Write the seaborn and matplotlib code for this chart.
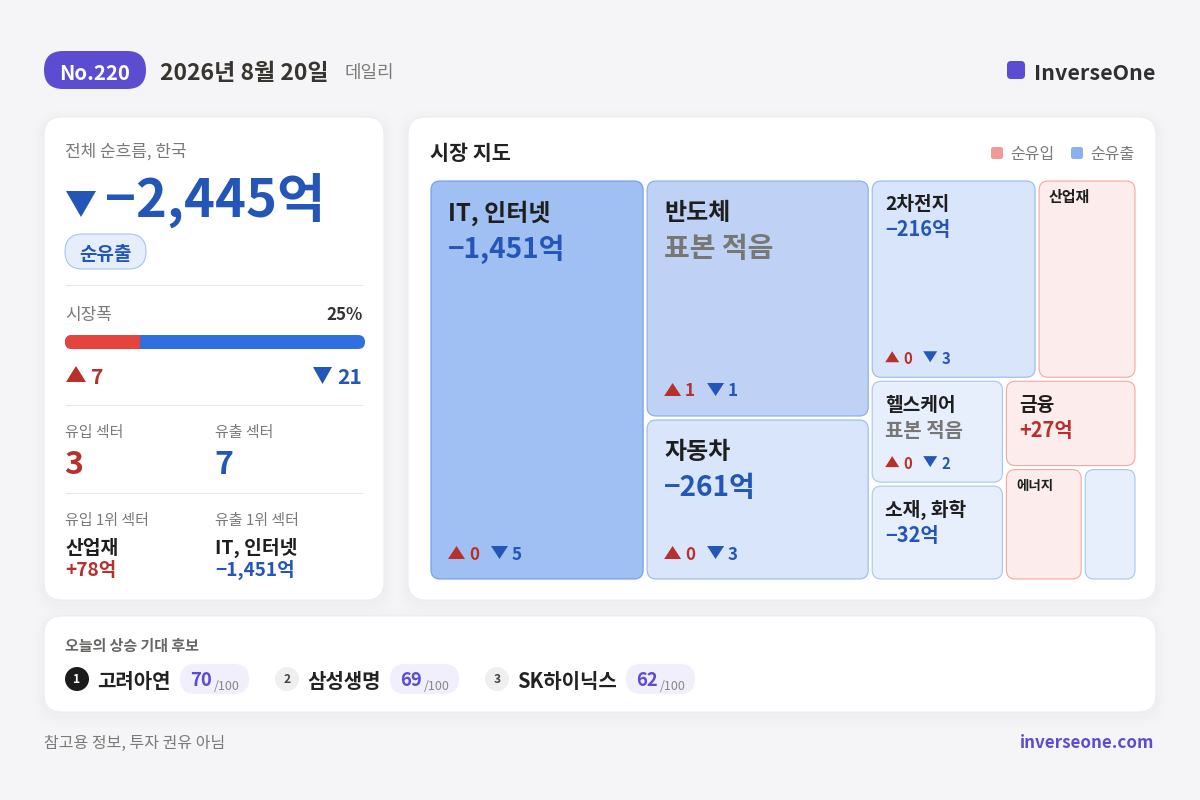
import matplotlib
matplotlib.use("Agg")
import matplotlib.pyplot as plt
from matplotlib.patches import FancyBboxPatch, Polygon, Circle
import seaborn as sns

# ---------- data ----------
issue_label = "No.220"
date_label = "2026년 8월 20일"
total_flow = -2445
advancers = 7
decliners = 21
breadth_pct = 25
inflow_sectors = 3
outflow_sectors = 7
top_in_name, top_in_flow = "산업재", 78
top_out_name, top_out_flow = "IT, 인터넷", -1451

sector_names = ["IT, 인터넷", "반도체", "자동차", "2차전지", "산업재", "헬스케어", "소재, 화학", "금융", "에너지", ""]
sector_flows = [-1451, None, -261, -216, None, None, -32, 27, None, None]
sector_ups = [0, 1, 0, 0, None, 0, None, None, None, None]
sector_downs = [5, 1, 3, 3, None, 2, None, None, None, None]
sector_sizes = [86832, 53775, 36675, 33400, 20000, 14070, 12998, 11704, 8927, 6102]

pick_names = ["고려아연", "삼성생명", "SK하이닉스"]
pick_scores = [70, 69, 62]

# ---------- style ----------
BG = "#F5F5F8"
PURPLE = "#5B4CD1"
BLUE = "#2456B8"
RED = "#B8302B"
GREY = "#7A7A78"
INK = "#1E1E1E"
LINE = "#E6E6E9"
cell_tiers = ["L", "L", "L", "M", "S", "M", "M", "M", "XS", "XS"]
cell_fills = ["#A0BFF3", "#BFD2F5", "#D8E5FB", "#D8E5FB", "#FCECEC", "#E8EFFC", "#E8EFFC", "#FCECEC", "#FCECEC", "#E8EFFC"]
cell_edges = ["#6F9BE8", "#86ABEC", "#98B9F1", "#98B9F1", "#F3A8A2", "#A8C4F2", "#A8C4F2", "#F3A8A2", "#F3A8A2", "#A8C4F2"]

sns.set_theme(style="white")
plt.rcParams["font.family"] = ["Noto Sans CJK KR", "DejaVu Sans"]

fig = plt.figure(figsize=(12, 8), dpi=100, facecolor=BG)
ax = fig.add_axes([0, 0, 1, 1])
ax.set_xlim(0, 1200)
ax.set_ylim(800, 0)
ax.axis("off")

THIN = 0.8


def txt(x, y, s, px, color=INK, weight="normal", ha="left", va="center", **kw):
    dy = 2 if va == "center" else 0
    return ax.text(x, y + dy, s, fontsize=px * 0.72, color=color, fontweight=weight, ha=ha, va=va, **kw)


def rbox(x0, y0, x1, y1, r, fc, ec="none", lw=THIN, alpha=None, z=1):
    p = FancyBboxPatch((x0, y0), x1 - x0, y1 - y0, boxstyle=f"round,pad=0,rounding_size={r}",
                       fc=fc, ec=ec, lw=lw, alpha=alpha, zorder=z)
    ax.add_patch(p)
    return p


def card(x0, y0, x1, y1, r=18):
    for grow, a in [(12, 0.004), (9, 0.005), (6, 0.006), (3, 0.008)]:
        rbox(x0 - grow, y0 - grow + 4, x1 + grow, y1 + grow + 4, r + grow, "#30304A", alpha=a, z=0.5)
    rbox(x0, y0, x1, y1, r, "white", "#ECECF0", 0.72, z=1)


def tri(x0, x1, y0, y1, up, color):
    if up:
        pts = [(x0, y1), (x1, y1), ((x0 + x1) / 2, y0)]
    else:
        pts = [(x0, y0), (x1, y0), ((x0 + x1) / 2, y1)]
    ax.add_patch(Polygon(pts, closed=True, fc=color, ec="none", zorder=3))


def money(v):
    return f"{'+' if v > 0 else '−'}{abs(v):,}억"


def divider(y):
    ax.plot([65, 363], [y, y], color=LINE, lw=0.72, zorder=2, solid_capstyle="butt")


# ---------- header ----------
rbox(44, 51, 146, 89, 19, PURPLE, z=2)
txt(95, 71, issue_label, 20.5, "white", "bold", ha="center")
txt(160, 72, date_label, 23, "#38352F", "bold")
txt(344, 71, "데일리", 18, GREY)
rbox(1007, 61, 1025, 79, 4, PURPLE, z=2)
txt(1155, 72, "InverseOne", 21.4, "#2F2F2F", "bold", ha="right")

# ---------- left card ----------
card(44, 117, 384, 600)
txt(65, 150, "전체 순흐름, 한국", 17, GREY)
tri(66, 96, 191, 217, False, BLUE)
txt(105, 217, money(total_flow), 52.5, BLUE, "bold", va="baseline")
rbox(65, 234, 146, 269, 17.5, "#E6EEFC", "#A8C3F2", z=2)
txt(105.5, 253, "순유출", 19, BLUE, "bold", ha="center")
divider(285)
txt(65, 313, "시장폭", 17, GREY)
txt(362.5, 313, f"{breadth_pct}%", 17, "#333333", "bold", ha="right")

# breadth bar: stacked bar via seaborn on its own pixel-aligned axes
bar_ax = fig.add_axes([65 / 1200, 1 - 349 / 800, 300 / 1200, 14 / 800])
sns.barplot(x=[advancers + decliners], y=["폭"], color="#2F6FE0", width=1, saturation=1, linewidth=0, ax=bar_ax)
sns.barplot(x=[advancers], y=["폭"], color="#E5443C", width=1, saturation=1, linewidth=0, ax=bar_ax)
bar_ax.set_xlim(0, advancers + decliners)
bar_ax.set_ylim(0.5, -0.5)
bar_ax.axis("off")
bar_ax.patch.set_alpha(0)
clip = FancyBboxPatch((65, 335), 300, 14, boxstyle="round,pad=0,rounding_size=7", fc="none", ec="none")
ax.add_patch(clip)
for b in bar_ax.patches:
    b.set_clip_path(clip)

tri(66, 86, 366, 382, True, RED)
txt(91, 375, str(advancers), 21, RED, "bold")
tri(313, 332, 367, 384, False, BLUE)
txt(362.5, 375, str(decliners), 21, BLUE, "bold", ha="right")
divider(405)
txt(65, 431, "유입 섹터", 15, GREY)
txt(215, 431, "유출 섹터", 15, GREY)
txt(64, 463, str(inflow_sectors), 32, RED, "bold")
txt(214, 463, str(outflow_sectors), 32, BLUE, "bold")
divider(493)
txt(65, 519, "유입 1위 섹터", 15, GREY)
txt(215, 519, "유출 1위 섹터", 15, GREY)
txt(65, 546, top_in_name, 19.3, INK, "bold")
txt(215, 546, top_out_name, 19.3, INK, "bold")
txt(65, 568, money(top_in_flow), 19, RED, "bold")
txt(215, 568, money(top_out_flow), 19, BLUE, "bold")

# ---------- right card ----------
card(408, 117, 1156, 600)
txt(430, 152, "시장 지도", 20.7, "#222222", "bold")
rbox(991, 147, 1003, 159, 2.5, "#F09A96", z=2)
txt(1010, 153, "순유입", 16, GREY)
rbox(1071, 147, 1083, 159, 2.5, "#8BB0F0", z=2)
txt(1090, 153, "순유출", 16, GREY)

# treemap: nested slice-and-dice from sector sizes
GAP = 4
tree = [0, [1, 2], [[3, 4], [[5, 6], [7, [8, 9]]]]]


def weight(node):
    return sector_sizes[node] if isinstance(node, int) else sum(weight(n) for n in node)


rects = {}


def layout(node, x, y, w, h, horizontal):
    if isinstance(node, int):
        rects[node] = (x, y, x + w - GAP, y + h - GAP)
        return
    total = weight(node)
    pos = 0.0
    for child in node:
        share = weight(child) / total
        if horizontal:
            layout(child, x + pos * w, y, w * share, h, False)
        else:
            layout(child, x, y + pos * h, w, h * share, True)
        pos += share


layout(tree, 431, 181, 704 + GAP, 398 + GAP, True)

tiers = {
    "L": dict(pad=17, name=24, name_dy=30, val=28, val_px=28, val_dy=66, foot=17, foot_dy=26, tw=17, th=13, adv=43),
    "M": dict(pad=13, name=19.2, name_dy=22, val=20, val_px=20, val_dy=47, foot=15, foot_dy=20, tw=14, th=11, adv=38),
    "S": dict(pad=10, name=15, name_dy=14),
    "XS": dict(pad=10, name=13.5, name_dy=14),
}

for i, name in enumerate(sector_names):
    x0, y0, x1, y1 = rects[i]
    ax.add_patch(FancyBboxPatch((x0, y0), x1 - x0, y1 - y0, boxstyle="round,pad=0,rounding_size=9",
                                fc=cell_fills[i], ec=cell_edges[i], lw=THIN, zorder=2))
    t = tiers[cell_tiers[i]]
    if name:
        txt(x0 + t["pad"], y0 + t["name_dy"], name, t["name"], INK, "bold", zorder=4)
    if cell_tiers[i] in ("S", "XS"):
        continue
    if sector_flows[i] is None:
        txt(x0 + t["pad"], y0 + t["val_dy"], "표본 적음", t["val_px"], "#777775", "bold", zorder=4)
    else:
        col = RED if sector_flows[i] > 0 else BLUE
        txt(x0 + t["pad"], y0 + t["val_dy"], money(sector_flows[i]), t["val"], col, "bold", zorder=4)
    if sector_ups[i] is not None:
        fx = x0 + t["pad"]
        fy = y1 - t["foot_dy"]
        tri(fx, fx + t["tw"], fy - t["th"] / 2 - 0.5, fy + t["th"] / 2 - 0.5, True, RED)
        txt(fx + t["tw"] + 4, fy - 0.5, str(sector_ups[i]), t["foot"], RED, "bold", zorder=4)
        tri(fx + t["adv"], fx + t["adv"] + t["tw"], fy - t["th"] / 2 - 0.5, fy + t["th"] / 2 - 0.5, False, BLUE)
        txt(fx + t["adv"] + t["tw"] + 4, fy - 0.5, str(sector_downs[i]), t["foot"], BLUE, "bold", zorder=4)

# ---------- bottom card ----------
card(44, 616, 1156, 712)
txt(65, 644, "오늘의 상승 기대 후보", 15, "#666664", "bold")
circle_x = [77, 287, 497]
for k, (nm, sc) in enumerate(zip(pick_names, pick_scores)):
    cx = circle_x[k]
    first = k == 0
    ax.add_patch(Circle((cx, 679), 12, fc="#1C1C1C" if first else "#EFEFEF", ec="none", zorder=2))
    txt(cx, 677.5, str(k + 1), 12, "white" if first else "#444444", "bold", ha="center", zorder=4)
    txt(cx + 20.5, 679, nm, 20, "#222222", "bold")
    px0 = [180, 390, 626][k]
    rbox(px0, 664, px0 + 69, 694, 15, "#F1EFFB", z=2)
    txt(px0 + 10, 679, str(sc), 18.5, PURPLE, "bold", zorder=4)
    txt(px0 + 34, 684.5, "/100", 12.5, "#888888", zorder=4)

# ---------- footer ----------
txt(44, 741, "참고용 정보, 투자 권유 아님", 16, GREY)
txt(1154.5, 741, "inverseone.com", 17, PURPLE, "bold", ha="right")

fig.savefig("out.png", dpi=100, facecolor=BG)
